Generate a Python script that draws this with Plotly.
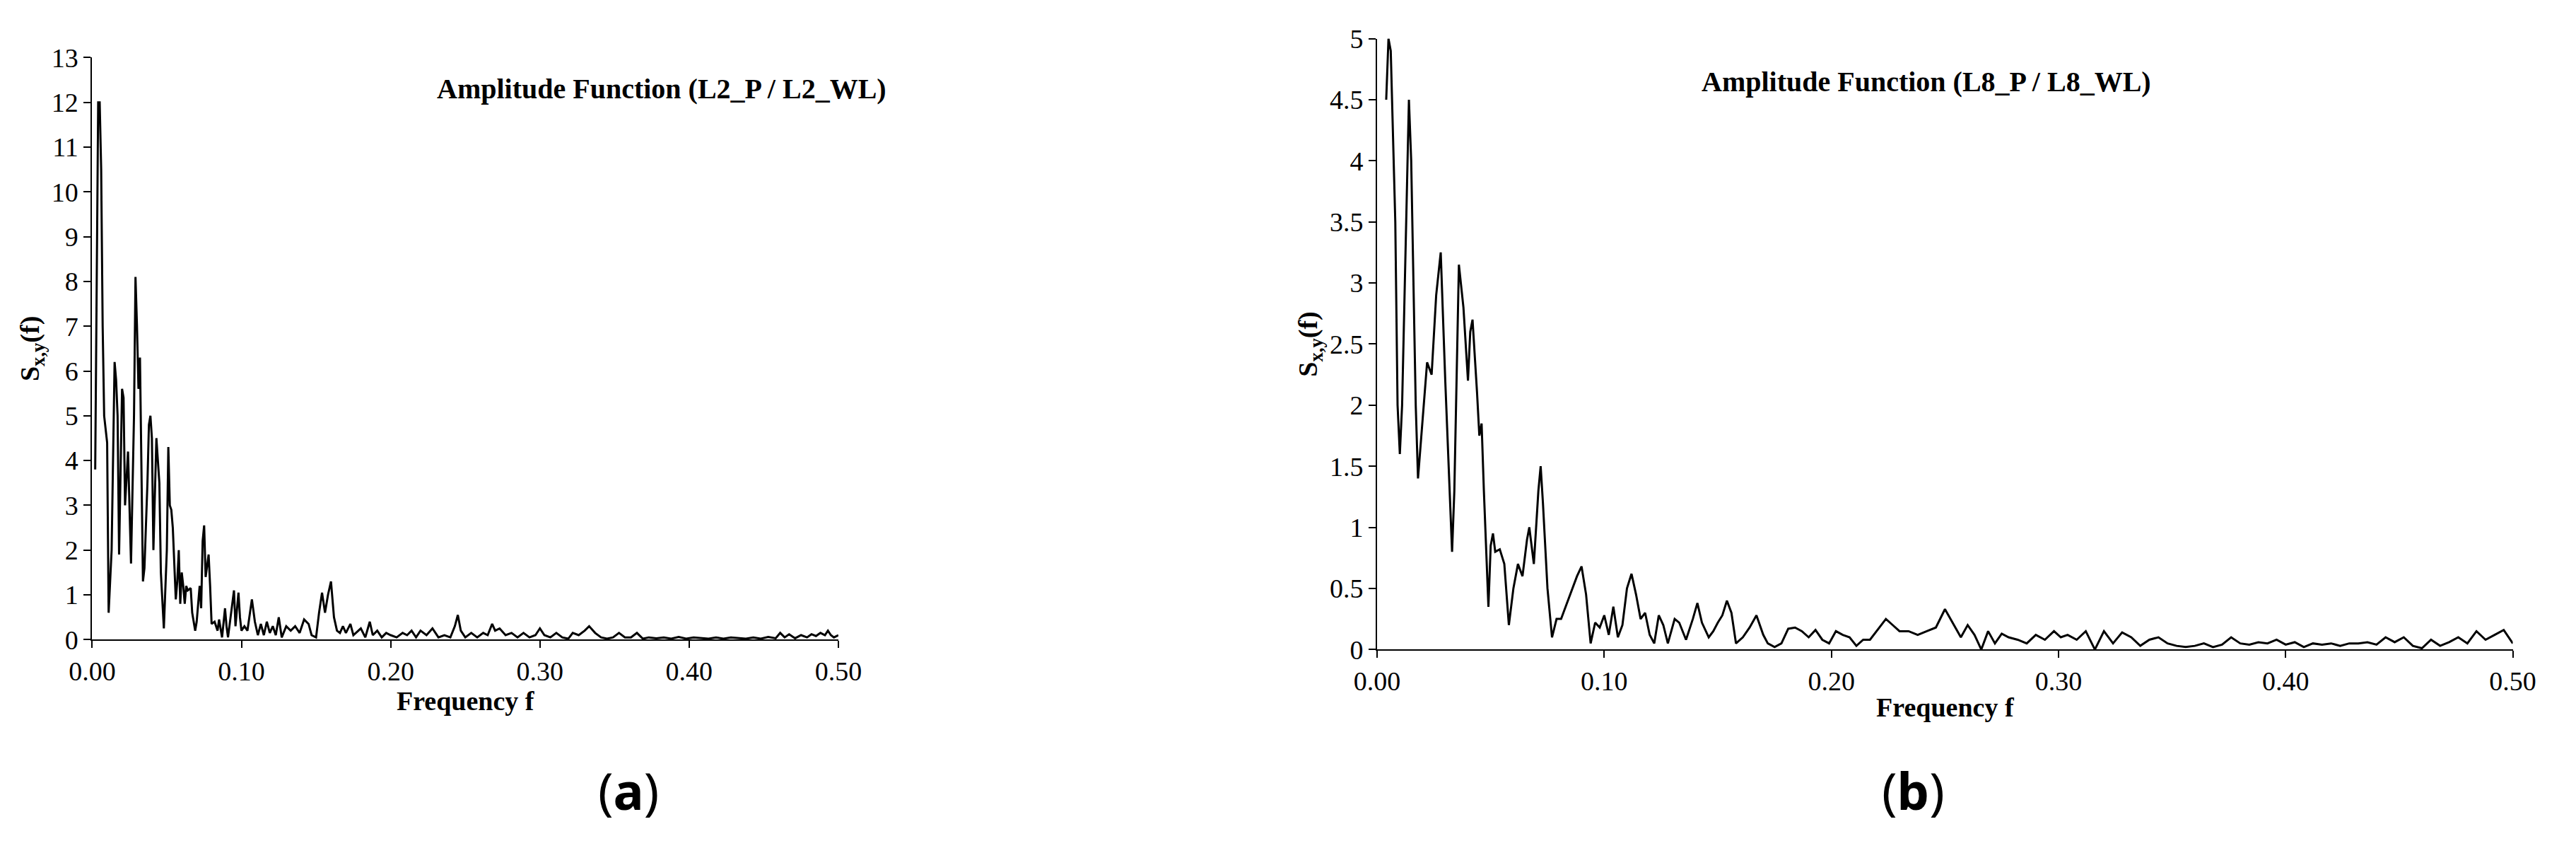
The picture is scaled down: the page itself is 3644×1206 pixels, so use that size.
import plotly.graph_objects as go

# Panel (a): Amplitude function L2_P / L2_WL
freq_a = [0.002, 0.003, 0.004, 0.005, 0.006, 0.007, 0.008, 0.010, 0.011, 0.013, 0.015, 0.016, 0.017,
          0.018, 0.020, 0.021, 0.022, 0.024, 0.026, 0.028, 0.029, 0.030, 0.031, 0.032, 0.033, 0.034,
          0.035, 0.037, 0.038, 0.039, 0.040, 0.041, 0.043, 0.045, 0.046, 0.048, 0.050, 0.051, 0.052,
          0.053, 0.054, 0.056, 0.057, 0.058, 0.059, 0.060, 0.061, 0.062, 0.063, 0.064, 0.066, 0.067,
          0.069, 0.070, 0.072, 0.073, 0.074, 0.075, 0.076, 0.078, 0.079, 0.080, 0.082, 0.084, 0.085,
          0.087, 0.089, 0.090, 0.091, 0.093, 0.095, 0.096, 0.098, 0.099, 0.100, 0.102, 0.104, 0.107,
          0.109, 0.111, 0.113, 0.115, 0.117, 0.119, 0.121, 0.123, 0.125, 0.127, 0.130, 0.133, 0.136,
          0.139, 0.142, 0.145, 0.147, 0.150, 0.152, 0.154, 0.156, 0.158, 0.160, 0.162, 0.164, 0.166,
          0.168, 0.170, 0.173, 0.175, 0.178, 0.180, 0.183, 0.186, 0.188, 0.191, 0.194, 0.197, 0.200,
          0.204, 0.208, 0.211, 0.214, 0.217, 0.220, 0.224, 0.228, 0.232, 0.236, 0.240, 0.243, 0.245,
          0.247, 0.250, 0.254, 0.258, 0.262, 0.265, 0.268, 0.270, 0.273, 0.277, 0.281, 0.285, 0.289,
          0.293, 0.297, 0.300, 0.303, 0.307, 0.311, 0.315, 0.319, 0.322, 0.326, 0.330, 0.333, 0.337,
          0.341, 0.345, 0.349, 0.353, 0.357, 0.361, 0.365, 0.369, 0.373, 0.378, 0.383, 0.388, 0.393,
          0.398, 0.403, 0.408, 0.413, 0.418, 0.423, 0.428, 0.433, 0.438, 0.443, 0.448, 0.453, 0.458,
          0.461, 0.464, 0.467, 0.471, 0.475, 0.479, 0.482, 0.485, 0.488, 0.491, 0.493, 0.495, 0.497,
          0.500]
amp_a = [3.8, 7.4, 12.0, 12.0, 10.5, 7.0, 5.0, 4.4, 0.6, 2.0, 6.2, 5.8, 5.0,
         1.9, 5.6, 5.4, 3.0, 4.2, 1.7, 5.0, 8.1, 7.0, 5.6, 6.3, 4.0, 1.3,
         1.6, 3.5, 4.8, 5.0, 4.5, 2.0, 4.5, 3.5, 1.5, 0.25, 2.0, 4.3, 3.0,
         2.9, 2.5, 0.9, 1.3, 2.0, 0.8, 1.5, 1.2, 0.8, 1.2, 1.1, 1.15, 0.6,
         0.2, 0.4, 1.2, 0.7, 2.2, 2.55, 1.4, 1.9, 1.2, 0.35, 0.4, 0.2, 0.45,
         0.05, 0.7, 0.3, 0.05, 0.6, 1.1, 0.3, 1.05, 0.5, 0.2, 0.3, 0.2, 0.9,
         0.4, 0.1, 0.35, 0.1, 0.4, 0.15, 0.3, 0.1, 0.5, 0.05, 0.3, 0.2, 0.3,
         0.15, 0.45, 0.35, 0.1, 0.05, 0.6, 1.05, 0.6, 1.0, 1.3, 0.5, 0.2, 0.15,
         0.3, 0.15, 0.35, 0.1, 0.2, 0.25, 0.05, 0.4, 0.1, 0.2, 0.05, 0.15, 0.1,
         0.05, 0.15, 0.1, 0.2, 0.05, 0.2, 0.1, 0.25, 0.05, 0.1, 0.05, 0.3, 0.55,
         0.2, 0.05, 0.15, 0.05, 0.15, 0.1, 0.35, 0.2, 0.25, 0.1, 0.15, 0.05, 0.15,
         0.05, 0.1, 0.25, 0.1, 0.05, 0.15, 0.05, 0.02, 0.15, 0.1, 0.2, 0.3, 0.15,
         0.05, 0.02, 0.05, 0.15, 0.05, 0.05, 0.15, 0.02, 0.05, 0.03, 0.05, 0.02, 0.06,
         0.02, 0.05, 0.03, 0.02, 0.05, 0.02, 0.05, 0.03, 0.02, 0.05, 0.02, 0.06, 0.03,
         0.15, 0.05, 0.12, 0.03, 0.1, 0.05, 0.12, 0.08, 0.15, 0.1, 0.2, 0.1, 0.05,
         0.1]

# Panel (b): Amplitude function L8_P / L8_WL
freq_b = [0.004, 0.005, 0.006, 0.008, 0.009, 0.010, 0.011, 0.013, 0.014, 0.015, 0.017, 0.018, 0.020,
          0.022, 0.023, 0.024, 0.026, 0.028, 0.030, 0.032, 0.033, 0.034, 0.036, 0.038, 0.040, 0.041,
          0.042, 0.044, 0.045, 0.046, 0.047, 0.049, 0.050, 0.051, 0.052, 0.054, 0.056, 0.058, 0.060,
          0.062, 0.064, 0.066, 0.067, 0.069, 0.071, 0.072, 0.073, 0.075, 0.077, 0.079, 0.081, 0.083,
          0.085, 0.088, 0.090, 0.092, 0.094, 0.096, 0.098, 0.100, 0.102, 0.104, 0.106, 0.108, 0.110,
          0.112, 0.114, 0.116, 0.118, 0.120, 0.122, 0.124, 0.126, 0.128, 0.131, 0.133, 0.136, 0.139,
          0.141, 0.143, 0.146, 0.148, 0.150, 0.152, 0.154, 0.156, 0.158, 0.161, 0.164, 0.167, 0.170,
          0.172, 0.175, 0.178, 0.181, 0.184, 0.187, 0.190, 0.193, 0.196, 0.199, 0.202, 0.205, 0.208,
          0.211, 0.214, 0.217, 0.220, 0.224, 0.227, 0.230, 0.234, 0.238, 0.242, 0.246, 0.250, 0.254,
          0.257, 0.260, 0.263, 0.266, 0.269, 0.272, 0.275, 0.278, 0.282, 0.286, 0.290, 0.294, 0.298,
          0.301, 0.304, 0.308, 0.312, 0.316, 0.320, 0.324, 0.328, 0.332, 0.336, 0.340, 0.344, 0.348,
          0.352, 0.356, 0.360, 0.364, 0.368, 0.372, 0.376, 0.380, 0.384, 0.388, 0.392, 0.396, 0.400,
          0.404, 0.408, 0.412, 0.416, 0.420, 0.424, 0.428, 0.432, 0.436, 0.440, 0.444, 0.448, 0.452,
          0.456, 0.460, 0.464, 0.468, 0.472, 0.476, 0.480, 0.484, 0.488, 0.492, 0.496, 0.500]
amp_b = [4.5, 5.0, 4.9, 3.5, 2.0, 1.6, 2.0, 3.8, 4.5, 4.0, 2.0, 1.4, 1.9,
         2.35, 2.3, 2.25, 2.9, 3.25, 2.2, 1.3, 0.8, 1.3, 3.15, 2.8, 2.2, 2.6,
         2.7, 2.1, 1.75, 1.85, 1.3, 0.35, 0.85, 0.95, 0.8, 0.82, 0.7, 0.2, 0.5,
         0.7, 0.6, 0.9, 1.0, 0.7, 1.3, 1.5, 1.2, 0.5, 0.1, 0.25, 0.25, 0.35,
         0.45, 0.6, 0.68, 0.45, 0.05, 0.22, 0.18, 0.28, 0.12, 0.35, 0.1, 0.2, 0.5,
         0.62, 0.45, 0.25, 0.3, 0.12, 0.05, 0.28, 0.2, 0.05, 0.25, 0.22, 0.08, 0.25,
         0.38, 0.22, 0.1, 0.15, 0.22, 0.28, 0.4, 0.3, 0.05, 0.1, 0.18, 0.28, 0.12,
         0.05, 0.02, 0.05, 0.17, 0.18, 0.15, 0.1, 0.16, 0.08, 0.05, 0.15, 0.12, 0.1,
         0.03, 0.08, 0.08, 0.15, 0.25, 0.2, 0.15, 0.15, 0.12, 0.15, 0.18, 0.33, 0.2,
         0.1, 0.2, 0.12, 0.0, 0.15, 0.05, 0.13, 0.1, 0.08, 0.05, 0.12, 0.08, 0.15,
         0.1, 0.12, 0.08, 0.15, 0.0, 0.15, 0.05, 0.14, 0.1, 0.03, 0.08, 0.1, 0.05,
         0.03, 0.02, 0.03, 0.05, 0.02, 0.04, 0.1, 0.05, 0.04, 0.06, 0.05, 0.08, 0.04,
         0.06, 0.02, 0.05, 0.04, 0.05, 0.03, 0.05, 0.05, 0.06, 0.04, 0.1, 0.06, 0.1,
         0.03, 0.01, 0.08, 0.03, 0.06, 0.1, 0.05, 0.15, 0.08, 0.12, 0.16, 0.05]

x_ticks = [0.0, 0.1, 0.2, 0.3, 0.4, 0.5]
x_labels = ["0.00", "0.10", "0.20", "0.30", "0.40", "0.50"]

serif = "Liberation Serif"
line = dict(color="black", width=3)

fig = go.Figure()
fig.add_trace(go.Scatter(x=freq_a, y=amp_a, mode="lines", line=line, xaxis="x", yaxis="y"))
fig.add_trace(go.Scatter(x=freq_b, y=amp_b, mode="lines", line=line, xaxis="x2", yaxis="y2"))

axis_common = dict(showline=True, linecolor="black", linewidth=2, ticks="outside",
                   ticklen=10, tickwidth=2, tickcolor="black", showgrid=False, zeroline=False,
                   tickfont=dict(family=serif, size=38, color="black"))
axis_title_font = dict(family=serif, size=38, color="black")

fig.update_layout(
    width=3644, height=1206,
    paper_bgcolor="white", plot_bgcolor="white",
    showlegend=False,
    margin=dict(l=0, r=0, t=0, b=0),
    xaxis=dict(domain=[0.025, 0.32], range=[0, 0.5], tickvals=x_ticks, ticktext=x_labels,
               anchor="y",
               title=dict(text="<b>Frequency f</b>", font=axis_title_font, standoff=4),
               **axis_common),
    yaxis=dict(domain=[0.248, 0.955], range=[0, 13], dtick=1, anchor="x",
               title=dict(text="<b>S<sub>x,y</sub>(f)</b>", font=axis_title_font, standoff=6),
               **axis_common),
    xaxis2=dict(domain=[0.533, 0.982], range=[0, 0.5], tickvals=x_ticks, ticktext=x_labels,
                anchor="y2",
                title=dict(text="<b>Frequency f</b>", font=axis_title_font, standoff=4),
                **axis_common),
    yaxis2=dict(domain=[0.236, 0.978], range=[0, 5], dtick=0.5, anchor="x2",
                title=dict(text="<b>S<sub>x,y</sub>(f)</b>", font=axis_title_font, standoff=6),
                **axis_common),
)

title_font = dict(family=serif, size=40, color="black")
fig.add_annotation(text="<b>Amplitude Function (L2_P / L2_WL)</b>", xref="paper", yref="paper",
                   x=0.25, y=0.917, xanchor="center", yanchor="middle", showarrow=False,
                   font=title_font)
fig.add_annotation(text="<b>Amplitude Function (L8_P / L8_WL)</b>", xref="paper", yref="paper",
                   x=0.75, y=0.926, xanchor="center", yanchor="middle", showarrow=False,
                   font=title_font)

label_font = dict(family="Noto Sans", size=72, color="black")
fig.add_annotation(text="(<b>a</b>)", xref="paper", yref="paper", x=0.237, y=0.065,
                   xanchor="center", yanchor="middle", showarrow=False, font=label_font)
fig.add_annotation(text="(<b>b</b>)", xref="paper", yref="paper", x=0.745, y=0.065,
                   xanchor="center", yanchor="middle", showarrow=False, font=label_font)

fig.write_html("out.html")
